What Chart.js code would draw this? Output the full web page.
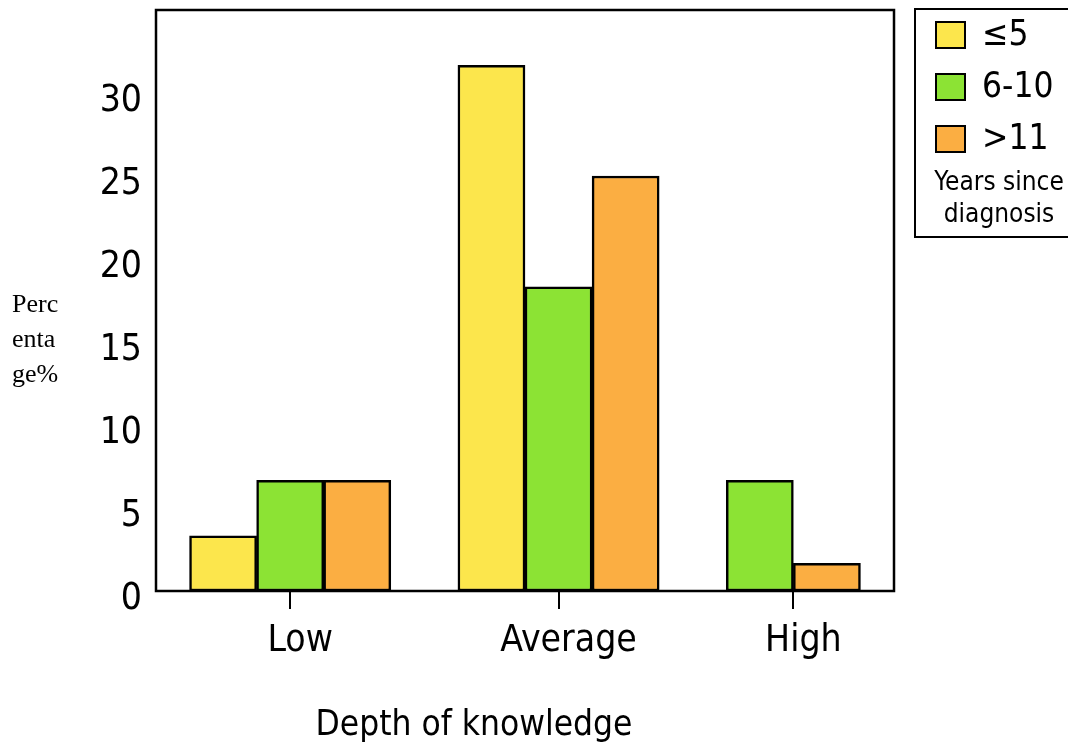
<!DOCTYPE html>
<html>
<head>
<meta charset="utf-8">
<script src="https://cdn.jsdelivr.net/npm/chart.js@4"></script>
<style>
  body { margin: 0; background: #fff; }
</style>
</head>
<body>
<canvas id="myChart" width="1068" height="746"></canvas>
<script>
// data (percent of patients)
const categories = ['Low', 'Average', 'High'];
const seriesLabels = ['≤5', '6-10', '>11'];
const upTo5 = [3.33, 31.67, null];
const from6to10 = [6.67, 18.33, 6.67];
const over11 = [6.67, 25, 1.67];
const yTicks = [0, 5, 10, 15, 20, 25, 30];
const yMax = 35;
const yTitle = ['Perc', 'enta', 'ge%'];
const xTitle = 'Depth of knowledge';
const legendTitle = ['Years since', 'diagnosis'];

const colors = ['#fce64c', '#8ce334', '#fbae42'];
const font = "'DejaVu Sans Condensed', 'DejaVu Sans', sans-serif";
const serif = "'Liberation Serif', 'Times New Roman', serif";

// bars sit side by side, one empty bar between groups, missing bars take no room
const series = [upTo5, from6to10, over11];
const barX = series.map(() => []);
const groupCenters = [];
let cursor = 0.5;
categories.forEach((c, i) => {
    const start = cursor;
    series.forEach((s, k) => {
        if (s[i] !== null) {
            barX[k][i] = cursor + 0.5;
            cursor += 1;
        }
    });
    groupCenters.push((start + cursor) / 2);
    cursor += 1;
});
const xMax = cursor - 0.5;

const extras = {
    id: 'extras',
    afterDraw(chart) {
        const { ctx, chartArea: a } = chart;
        ctx.save();
        ctx.strokeStyle = '#000';
        ctx.lineWidth = 2.5;
        ctx.strokeRect(a.left, a.top, a.right - a.left, a.bottom - a.top);

        // y title, not rotated, three short lines
        ctx.fillStyle = '#000';
        ctx.font = '26px ' + serif;
        ctx.textAlign = 'left';
        ctx.textBaseline = 'alphabetic';
        yTitle.forEach((t, i) => ctx.fillText(t, 12, a.top + 302 + i * 35));

        // x title sits a little left of the plot centre
        ctx.font = '35px ' + font;
        ctx.textAlign = 'center';
        ctx.textBaseline = 'middle';
        ctx.fillText(xTitle, a.left + 318, a.bottom + 135);

        // legend box on the right
        const lx = a.right + 21;
        ctx.lineWidth = 2;
        ctx.strokeRect(lx, a.top - 1, 170, 228);
        ctx.textAlign = 'left';
        chart.data.datasets.forEach((ds, i) => {
            const cy = a.top + 25 + i * 52;
            ctx.fillStyle = ds.backgroundColor;
            ctx.fillRect(lx + 21, cy - 13, 29, 26);
            ctx.strokeRect(lx + 21, cy - 13, 29, 26);
            ctx.fillStyle = '#000';
            ctx.fillText(ds.label, lx + 67, cy + 1);
        });
        ctx.font = '26px ' + font;
        ctx.textAlign = 'center';
        legendTitle.forEach((t, i) => ctx.fillText(t, lx + 84, a.top + 173 + i * 32));
        ctx.restore();
    }
};

const ctx = document.getElementById('myChart').getContext('2d');
const myChart = new Chart(ctx, {
    type: 'bar',
    data: {
        datasets: series.map((s, k) => ({
            label: seriesLabels[k],
            data: s.map((v, i) => v === null ? null : { x: barX[k][i], y: v }).filter(p => p),
            backgroundColor: colors[k],
            borderColor: '#000',
            borderWidth: 2.5,
            borderSkipped: false,
            grouped: false,
            categoryPercentage: 1,
            barPercentage: 1
        }))
    },
    options: {
        responsive: false,
        animation: false,
        layout: {
            padding: { top: 10, right: 174, bottom: 0, left: 0 }
        },
        scales: {
            x: {
                type: 'linear',
                min: 0,
                max: xMax,
                offset: false,
                afterBuildTicks: axis => { axis.ticks = groupCenters.map(v => ({ value: v })); },
                afterFit: axis => {
                    axis.height = 155;
                    axis.paddingLeft = 0;
                    axis.paddingRight = 0;
                },
                ticks: {
                    callback: (v, i) => categories[i],
                    color: '#000',
                    autoSkip: false,
                    maxRotation: 0,
                    padding: 10,
                    labelOffset: 10,
                    font: { family: font, size: 37 }
                },
                grid: {
                    offset: false,
                    drawOnChartArea: false,
                    drawTicks: true,
                    tickLength: 18,
                    color: '#000',
                    lineWidth: 2
                },
                border: { display: false }
            },
            y: {
                min: 0,
                max: yMax,
                afterBuildTicks: axis => { axis.ticks = yTicks.map(v => ({ value: v })); },
                afterFit: axis => {
                    axis.width = 156;
                    axis.paddingTop = 0;
                    axis.paddingBottom = 0;
                },
                ticks: {
                    color: '#000',
                    padding: 14,
                    labelOffset: 8,
                    font: { family: font, size: 37 }
                },
                grid: { display: false, drawTicks: false },
                border: { display: false }
            }
        },
        plugins: {
            legend: { display: false },
            tooltip: { enabled: false }
        }
    },
    plugins: [extras]
});
</script>
</body>
</html>
